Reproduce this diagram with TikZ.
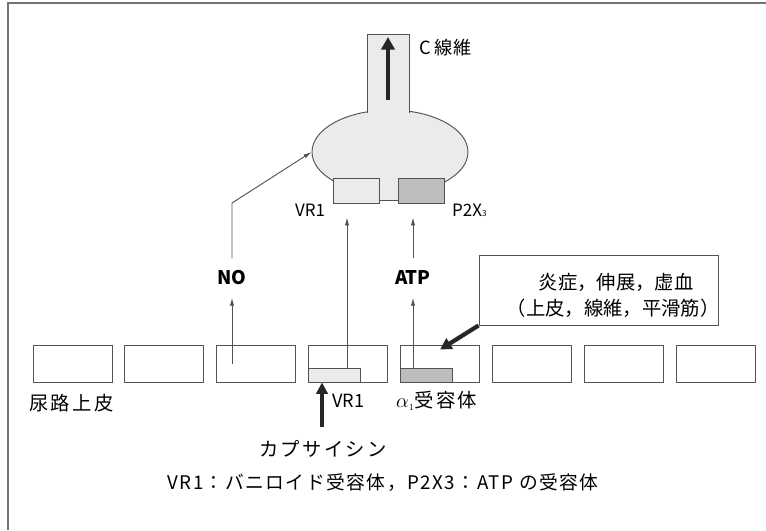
\documentclass[tikz,border=0pt]{standalone}
\usepackage{fontspec}
\setmainfont{Noto Sans CJK JP}
\usetikzlibrary{arrows.meta,positioning,shapes.geometric,calc}
\tikzstyle{every picture}=[>={Latex[length=2.4mm,width=1.3mm]}]
\colorlet{linec}{black!68}
\colorlet{cellfill}{black!8}
\colorlet{darkfill}{black!26}

\begin{document}
\begin{tikzpicture}[x=0.03cm,y=-0.03cm,
    cell/.style={draw=linec,line width=0.8pt,minimum width=2.37cm,minimum height=1.11cm,inner sep=0pt},
    recep/.style={draw=linec,line width=0.8pt,minimum width=1.56cm,minimum height=0.42cm,inner sep=0pt,anchor=south west},
    chan/.style={draw=linec,line width=0.8pt,minimum width=1.38cm,minimum height=0.75cm,inner sep=0pt},
    thin/.style={draw=linec,line width=0.8pt,->},
    bold/.style={draw=black!85,line width=3.6pt,-{Triangle[length=3.8mm,width=4mm]}},
    jlab/.style={font=\fontsize{16.5}{20}\selectfont,inner sep=0pt},
    spaced/.style={font=\fontsize{16.5}{20}\selectfont\addfontfeature{LetterSpace=12},inner sep=0pt},
    llab/.style={font=\fontsize{15.5}{18}\selectfont,inner sep=0pt},
    sig/.style={font=\fontsize{16}{18}\selectfont\bfseries,inner sep=0pt,minimum height=1.17cm}]
    \useasboundingbox (0,0) rectangle (766,530);
    % frame
    \draw[black!55,line width=1pt] (8,530) -- (8,3) -- (766,3);

    % urothelium
    \foreach \i in {1,...,8}
        \node[cell] (cell\i) at ({72.5+91.9*(\i-1)},363.5) {};
    \node[recep,fill=cellfill] (vrr) at (cell4.south west) {};
    \node[recep,fill=darkfill] (a1r) at (cell5.south west) {};

    % C fibre ending
    \node[ellipse,fill=cellfill,draw=linec,line width=0.8pt,minimum width=4.68cm,minimum height=2.52cm,inner sep=0pt] (soma) at (390,152) {};
    \node[fill=cellfill,minimum width=1.23cm,minimum height=2.34cm,inner sep=0pt] (stem) at (388.5,74) {};
    \draw[linec,line width=0.8pt] (stem.south west) -- (stem.north west) -- (stem.north east) -- (stem.south east);
    \fill[cellfill] (379,186) rectangle (398,200);
    \node[chan,fill=cellfill] (vrn) at (356,190.5) {};
    \node[chan,fill=darkfill] (p2x) at (421,190.5) {};
    \draw[linec,line width=0.8pt] ($(vrn.south east)+(0,-3)$) -- ($(p2x.south west)+(0,-3)$);

    \coordinate (stemtail) at (388,100);
    \coordinate (stemhead) at (388,37);
    \draw[bold] (stemtail) -- (stemhead);
    \node[llab,anchor=west] (cfib) at (419,48) {C 線維};

    % labels
    \node[llab,font=\fontsize{14.5}{17}\selectfont] (vrtop) at (310,210) {VR1};
    \node[llab,font=\fontsize{14.5}{17}\selectfont,anchor=west] (p2xlab) at (452,210) {P2X{\fontsize{7}{8}\selectfont 3}};
    \node[sig] (no) at (232,278) {NO};
    \node[sig] (atp) at (413,278) {ATP};
    \node[spaced,anchor=west] (uro) at (29,403) {尿路上皮};
    \node[llab,anchor=west] (vrlow) at (332,401) {VR1};
    \node[spaced,anchor=west] (a1lab) at (396,401) {$\alpha_{\scriptscriptstyle 1}$受容体};
    \node[spaced] (caps) at (323,449) {カプサイシン};
    \node[font=\fontsize{16}{18}\selectfont\addfontfeature{LetterSpace=8},inner sep=0pt] (note) at (383,483) {VR1：バニロイド受容体，P2X3：ATP の受容体};

    % stimulus box
    \node[draw=linec,line width=0.8pt,minimum width=7.17cm,minimum height=2.1cm,inner sep=0pt] (cause) at (598.5,290) {};
    \node[jlab] (cause1) at (616,282) {炎症，伸展，虚血};
    \node[jlab] (cause2) at (613,308) {（上皮，線維，平滑筋）};

    % pathways
    \coordinate (vrx) at (347,0);
    \draw[thin,shorten >=0.42cm] (vrr.north -| vrx) -- (vrn.south -| vrx);
    \draw[thin] (a1r.north -| atp) -- (atp.south);
    \draw[thin,shorten >=0.42cm] (atp.north) -- (p2x.south -| atp);
    \draw[thin] (cell3.center -| no) -- (no.south);
    \coordinate (nobend) at (232,203);
    \draw[thin] (no.north) -- (nobend) -- (soma.west);
    \draw[bold,-{Triangle[length=3.4mm,width=3.6mm]}] (cause.south west) -- ([yshift=-0.15cm]cell5.north);
    \coordinate (capstail) at (322,427);
    \draw[bold,-{Triangle[length=3.4mm,width=3.4mm]}] (capstail) -- (capstail |- vrr.south);
\end{tikzpicture}
\end{document}
